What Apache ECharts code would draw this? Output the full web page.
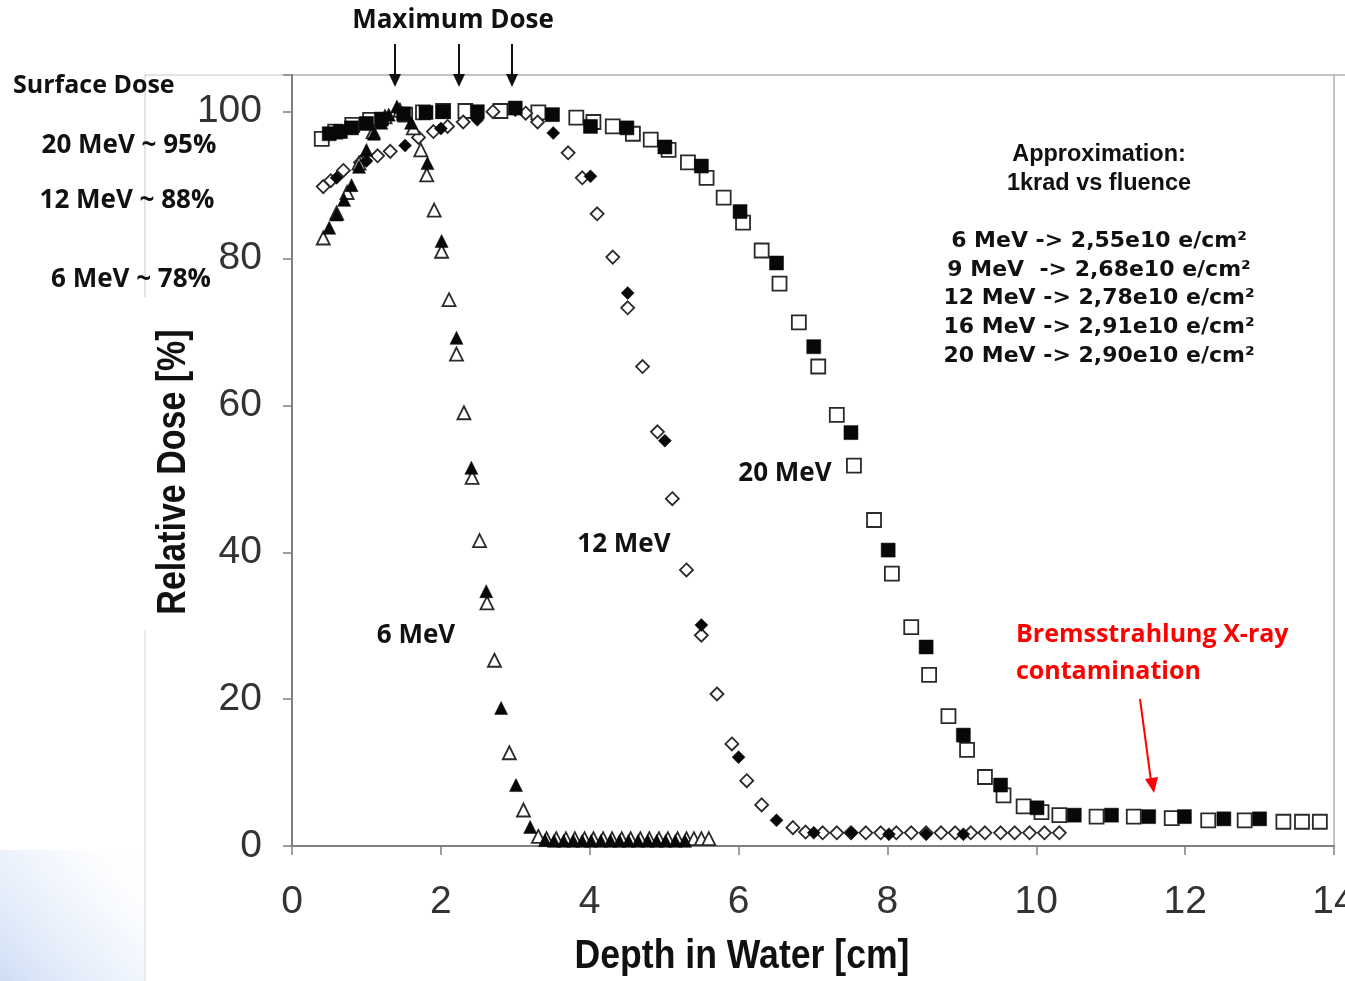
<!DOCTYPE html>
<html>
<head>
<meta charset="utf-8">
<script src="https://cdn.jsdelivr.net/npm/echarts@6/dist/echarts.min.js"></script>
<style>
  html, body { margin: 0; padding: 0; background: #fff; overflow: hidden; }
  #chart { width: 1345px; height: 981px; }
</style>
</head>
<body>
<div id="chart"></div>
<script>
// depth [cm], relative dose [%]
var e6Open = [[0.42,82.8],[0.6,86.2],[0.74,89],[0.9,93],[1.09,97.3],[1.25,99.3],[1.45,100.2],[1.63,97.8],[1.73,94.8],[1.81,91.4],
  [1.91,86.6],[2.01,81.0],[2.11,74.4],[2.21,67.0],[2.31,59.0],[2.42,50.2],[2.52,41.6],[2.62,33.1],[2.72,25.3],[2.92,12.7],
  [3.11,4.9],[3.31,1.3],[3.42,1.0],[3.55,1.0],[3.68,1.0],[3.8,1.0],[3.93,1.0],[4.05,1.0],[4.18,1.0],[4.3,1.0],[4.43,1.0],
  [4.55,1.0],[4.68,1.0],[4.8,1.0],[4.93,1.0],[5.05,1.0],[5.18,1.0],[5.3,1.0],[5.4,1.0],[5.5,1.0],[5.6,1.0]];
var e6Filled = [[0.5,84.2],[0.6,86],[0.7,88],[0.8,90],[0.9,92.5],[1.0,94.8],[1.1,97],[1.2,98.5],[1.3,99.6],[1.41,100.7],
  [1.5,99.8],[1.6,98.5],[1.82,93],[2.01,82.4],[2.21,69.2],[2.41,51.5],[2.61,34.7],[2.81,18.8],[3.01,8.3],[3.2,2.6],
  [3.4,0.8],[3.52,0.7],[3.65,0.7],[3.78,0.7],[3.9,0.7],[4.02,0.7],[4.15,0.7],[4.28,0.7],[4.4,0.7],[4.52,0.7],[4.65,0.7],
  [4.78,0.7],[4.9,0.7],[5.02,0.7],[5.15,0.7],[5.28,0.7]];
var e12Open = [[0.42,89.8],[0.52,90.6],[0.69,92],[0.92,93.1],[1.15,94],[1.32,94.6],[1.7,96.5],[1.9,97.3],[2.09,98],[2.3,98.6],
  [2.7,100],[3.14,99.8],[3.3,98.6],[3.71,94.4],[3.9,91],[4.1,86.1],[4.31,80.2],[4.51,73.3],[4.71,65.3],[4.91,56.4],
  [5.11,47.3],[5.3,37.6],[5.5,28.7],[5.71,20.7],[5.91,13.9],[6.11,8.9],[6.31,5.6],[6.73,2.5],[6.9,1.9],[7.13,1.8],
  [7.32,1.8],[7.51,1.8],[7.71,1.8],[7.91,1.8],[8.12,1.8],[8.32,1.8],[8.52,1.8],[8.72,1.8],[8.91,1.8],[9.12,1.8],
  [9.31,1.8],[9.52,1.8],[9.71,1.8],[9.91,1.8],[10.11,1.8],[10.31,1.8]];
var e12Filled = [[0.6,91],[1.0,93.3],[1.52,95.4],[2.0,97.7],[2.49,98.9],[3.0,100.2],[3.51,97.1],[4.01,91.2],[4.51,75.3],
  [5.01,55.2],[5.5,30.1],[6.0,12.1],[6.51,3.5],[7.01,1.8],[7.52,1.8],[8.02,1.6],[8.52,1.6],[9.02,1.6]];
var e20Open = [[0.4,96.3],[0.58,97.3],[0.81,98.2],[1.05,98.9],[1.52,99.6],[1.76,99.9],[2.03,100.1],[2.33,100.1],[2.8,100.1],
  [3.31,99.9],[3.82,99.2],[4.05,98.6],[4.31,98.0],[4.58,97.0],[4.82,96.2],[5.06,94.8],[5.32,93.1],[5.57,91.0],[5.8,88.3],
  [6.06,84.9],[6.31,81.1],[6.55,76.6],[6.81,71.3],[7.07,65.3],[7.32,58.7],[7.55,51.8],[7.82,44.4],[8.06,37.1],[8.32,29.8],
  [8.56,23.3],[8.82,17.7],[9.07,13.1],[9.31,9.4],[9.56,6.9],[9.83,5.4],[10.07,4.6],[10.31,4.2],[10.81,4.0],[11.31,4.0],
  [11.82,3.8],[12.31,3.5],[12.8,3.5],[13.32,3.3],[13.57,3.3],[13.81,3.3]];
var e20Filled = [[0.5,97],[0.65,97.3],[0.8,97.8],[1.0,98.4],[1.2,99],[1.5,99.7],[1.8,99.9],[2.03,100],[2.49,100],[3.0,100.5],
  [3.5,99.6],[4.01,98],[4.5,97.8],[5.01,95.2],[5.5,92.6],[6.02,86.4],[6.51,79.4],[7.01,68.0],[7.51,56.3],[8.01,40.3],
  [8.52,27.1],[9.02,15.1],[9.52,8.3],[10.01,5.2],[10.51,4.2],[11.01,4.2],[11.51,4.0],[11.99,4.0],[12.52,3.7],[13.0,3.7]];

var xTicks = [0, 2, 4, 6, 8, 10, 12, 14];
var yTicks = [0, 20, 40, 60, 80, 100];
var surfaceLines = ['20 MeV ~ 95%', '12 MeV ~ 88%', '6 MeV ~ 78%'];
var fluenceLines = ['6 MeV -> 2,55e10 e/cm\u00b2', '9 MeV  -> 2,68e10 e/cm\u00b2', '12 MeV -> 2,78e10 e/cm\u00b2',
  '16 MeV -> 2,91e10 e/cm\u00b2', '20 MeV -> 2,90e10 e/cm\u00b2'];
var maxDoseX = [395, 459, 512];

var bold = '"Open Sans", "DejaVu Sans", sans-serif';
var arial = '"Liberation Sans", Arial, sans-serif';

function openSeries(name, data, symbol, size) {
  return {
    name: name, type: 'scatter', data: data, symbol: symbol, symbolSize: size,
    itemStyle: { color: '#fff', borderColor: '#2a2a2a', borderWidth: 1.8, opacity: 1 },
    z: 2
  };
}
function filledSeries(name, data, symbol, size) {
  return {
    name: name, type: 'scatter', data: data, symbol: symbol, symbolSize: size,
    itemStyle: { color: '#080808', borderColor: '#080808', borderWidth: 0.5, opacity: 1 },
    z: 3
  };
}

function arrowDown(x, y1, y2, color, w) {
  return [
    { type: 'line', shape: { x1: x, y1: y1, x2: x, y2: y2 - 10 }, style: { stroke: color, lineWidth: w } },
    { type: 'polygon', shape: { points: [[x - 6, y2 - 13], [x + 6, y2 - 13], [x, y2]] }, style: { fill: color } }
  ];
}

var graphics = [];
// faint slide frame and corner
graphics.push({ type: 'rect', shape: { x: 0, y: 850, width: 145, height: 131 }, silent: true,
  style: { fill: new echarts.graphic.LinearGradient(0, 1, 1, 0, [
    { offset: 0, color: 'rgba(190,210,242,0.75)' }, { offset: 0.6, color: 'rgba(225,235,250,0.4)' },
    { offset: 1, color: 'rgba(255,255,255,0)' }]) } });
graphics.push({ type: 'line', shape: { x1: 145, y1: 75, x2: 292, y2: 75 }, style: { stroke: '#c8c8c8', lineWidth: 1 } });
graphics.push({ type: 'line', shape: { x1: 1334, y1: 75, x2: 1345, y2: 75 }, style: { stroke: '#b0b0b0', lineWidth: 1.5 } });
graphics.push({ type: 'line', shape: { x1: 145, y1: 75, x2: 145, y2: 297 }, style: { stroke: '#c8c8c8', lineWidth: 1 } });
graphics.push({ type: 'line', shape: { x1: 145, y1: 630, x2: 145, y2: 981 }, style: { stroke: '#d8d8d8', lineWidth: 1 } });

graphics.push({ type: 'text', x: 453, y: 21, style: { text: 'Maximum Dose', font: 'bold 26px ' + bold,
  fill: '#111', textAlign: 'center', textVerticalAlign: 'middle' } });
maxDoseX.forEach(function (x) { graphics = graphics.concat(arrowDown(x, 44, 87, '#111', 2)); });

graphics.push({ type: 'text', x: 13, y: 86, style: { text: 'Surface Dose', font: 'bold 25px ' + bold,
  fill: '#111', textAlign: 'left', textVerticalAlign: 'middle' } });
var surfY = [146, 201, 280], surfX = [129, 127, 131];
surfaceLines.forEach(function (t, i) {
  graphics.push({ type: 'text', x: surfX[i], y: surfY[i], style: { text: t, font: 'bold 26px ' + bold,
    fill: '#111', textAlign: 'center', textVerticalAlign: 'middle' } });
});

graphics.push({ type: 'text', x: 1099, y: 155, style: { text: 'Approximation:', font: 'bold 23.5px ' + arial,
  fill: '#111', textAlign: 'center', textVerticalAlign: 'middle' } });
graphics.push({ type: 'text', x: 1099, y: 184, style: { text: '1krad vs fluence', font: 'bold 23.5px ' + arial,
  fill: '#111', textAlign: 'center', textVerticalAlign: 'middle' } });
fluenceLines.forEach(function (t, i) {
  graphics.push({ type: 'text', x: 1099, y: 241 + i * 28.8, style: { text: t,
    font: 'bold 22px "DejaVu Sans", sans-serif',
    fill: '#111', textAlign: 'center', textVerticalAlign: 'middle' } });
});

var curveLabels = [['20 MeV', 785, 474], ['12 MeV', 624, 545], ['6 MeV', 416, 636]];
curveLabels.forEach(function (c) {
  graphics.push({ type: 'text', x: c[1], y: c[2], style: { text: c[0], font: 'bold 26px ' + bold,
    fill: '#111', textAlign: 'center', textVerticalAlign: 'middle' } });
});

graphics.push({ type: 'text', x: 1016, y: 635, style: { text: 'Bremsstrahlung X-ray', font: 'bold 25px ' + bold,
  fill: '#f00', textAlign: 'left', textVerticalAlign: 'middle' } });
graphics.push({ type: 'text', x: 1016, y: 672, style: { text: 'contamination', font: 'bold 25px ' + bold,
  fill: '#f00', textAlign: 'left', textVerticalAlign: 'middle' } });
graphics.push({ type: 'line', shape: { x1: 1140, y1: 699, x2: 1151, y2: 781 }, style: { stroke: '#f00', lineWidth: 2 } });
graphics.push({ type: 'polygon', shape: { points: [[1145, 779], [1158, 777], [1154, 793]] }, style: { fill: '#f00' } });

graphics.push({ type: 'text', x: 742, y: 957, scaleX: 0.89, style: { text: 'Depth in Water [cm]',
  font: 'bold 40px ' + arial, fill: '#111', textAlign: 'center', textVerticalAlign: 'middle' } });
graphics.push({ type: 'text', x: 174, y: 472, rotation: Math.PI / 2, scaleX: 0.85, style: { text: 'Relative Dose [%]',
  font: 'bold 40px ' + arial, fill: '#111', textAlign: 'center', textVerticalAlign: 'middle' } });

var chart = echarts.init(document.getElementById('chart'), null, { renderer: 'canvas' });
chart.setOption({
  animation: false,
  backgroundColor: '#fff',
  grid: { left: 292, right: 11, top: 75, bottom: 135, show: true, borderColor: '#b0b0b0', borderWidth: 1.5,
    containLabel: false, outerBoundsMode: 'none' },
  xAxis: {
    type: 'value', min: 0, max: 14, interval: 2,
    axisLine: { show: true, onZero: false, lineStyle: { color: '#808080', width: 2 } },
    axisTick: { show: true, length: 9, lineStyle: { color: '#808080', width: 1.5 } },
    axisLabel: { margin: 37, fontSize: 39, color: '#333', fontFamily: arial, hideOverlap: false,
      formatter: function (v) { return xTicks.indexOf(v) >= 0 ? String(v) : ''; } },
    splitLine: { show: false }
  },
  yAxis: {
    type: 'value', min: 0, max: 105, interval: 20,
    axisLine: { show: true, lineStyle: { color: '#808080', width: 2 } },
    axisTick: { show: true, length: 9, lineStyle: { color: '#808080', width: 1.5 } },
    axisLabel: { margin: 30, fontSize: 39, color: '#333', fontFamily: arial,
      formatter: function (v) { return yTicks.indexOf(v) >= 0 ? String(v) : ''; } },
    splitLine: { show: false }
  },
  series: [
    openSeries('20 MeV open', e20Open, 'rect', 14),
    openSeries('12 MeV open', e12Open, 'diamond', 13),
    openSeries('6 MeV open', e6Open, 'triangle', 13),
    filledSeries('20 MeV filled', e20Filled, 'rect', 14),
    filledSeries('12 MeV filled', e12Filled, 'diamond', 13),
    filledSeries('6 MeV filled', e6Filled, 'triangle', 13)
  ],
  graphic: graphics
});
</script>
</body>
</html>
